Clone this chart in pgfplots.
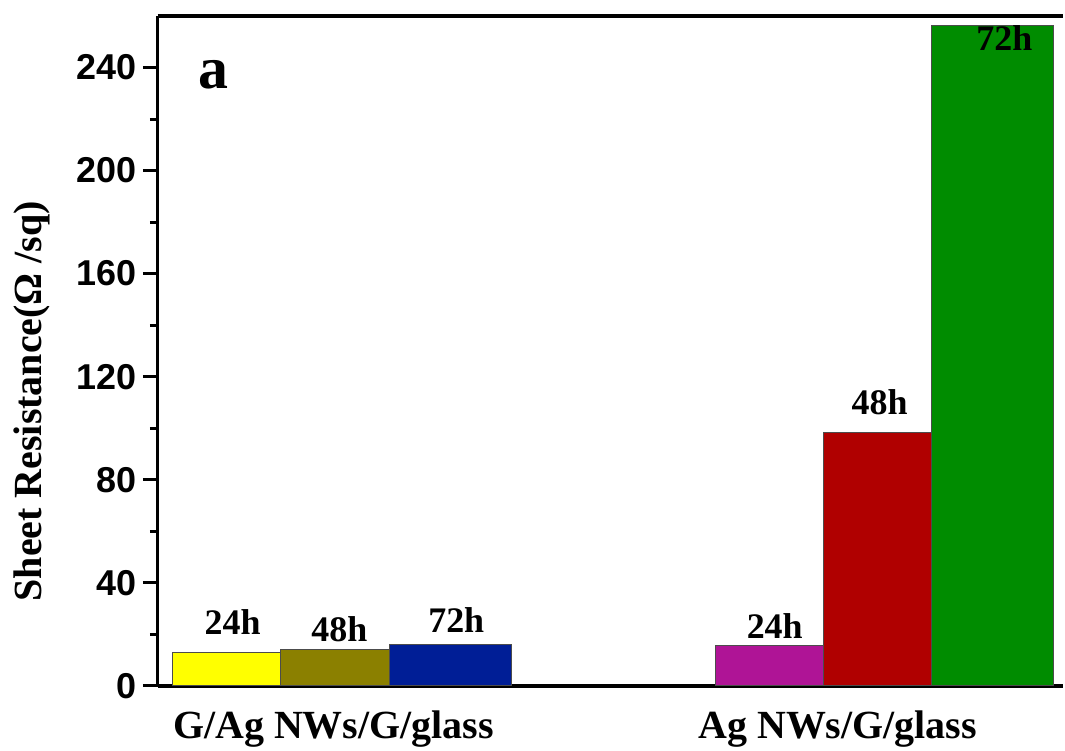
\documentclass[border=0pt]{standalone}
\usepackage{fontspec}
\setmainfont{Liberation Serif}
\setsansfont{Liberation Sans}
\usepackage{pgfplots}
\pgfplotsset{compat=1.18}
\definecolor{cYellow}{HTML}{FFFF00}
\definecolor{cOlive}{HTML}{8B8000}
\definecolor{cBlue}{HTML}{001E96}
\definecolor{cMagenta}{HTML}{AF1496}
\definecolor{cRed}{HTML}{B00000}
\definecolor{cGreen}{HTML}{008C00}
\begin{document}
\begin{tikzpicture}
\begin{axis}[
  scale only axis,
  width=907pt, height=671pt,
  xmin=158, xmax=1065,
  ymin=0, ymax=260,
  clip=false,
  axis x line*=bottom,
  axis y line*=left,
  axis line style={line width=3.5pt, black},
  tick align=outside,
  major tick length=15pt,
  minor tick length=8pt,
  ytick={0,40,80,120,160,200,240},
  minor ytick={20,60,100,140,180,220},
  every tick/.style={line width=3pt, black},
  xtick={334,839},
  xticklabels={G/Ag NWs/G/glass, Ag NWs/G/glass},
  xtick style={draw=none},
  /pgf/number format/assume math mode=true,
  yticklabel style={font=\sffamily\bfseries\fontsize{36}{36}\selectfont, xshift=-3pt},
  xticklabel style={font=\bfseries\fontsize{40}{40}\selectfont, anchor=base, yshift=-38pt},
  every axis y label/.style={at={(axis description cs:-0.128,0.425)}, rotate=90, anchor=base},
  ylabel={\bfseries\fontsize{40}{40}\selectfont Sheet Resistance(Ω /sq)},
  extra description/.code={\draw[line width=3.5pt, black] (rel axis cs:0,1) -- (rel axis cs:1,1);},
]
\addplot[ybar, bar shift=0pt, bar width=108, fill=cYellow, draw=black!70, line width=1pt] coordinates {(227,12.8)};
\addplot[ybar, bar shift=0pt, bar width=109, fill=cOlive, draw=black!70, line width=1pt] coordinates {(335.5,14.3)};
\addplot[ybar, bar shift=0pt, bar width=122, fill=cBlue, draw=black!70, line width=1pt] coordinates {(451,15.9)};
\addplot[ybar, bar shift=0pt, bar width=108, fill=cMagenta, draw=black!70, line width=1pt] coordinates {(771,15.5)};
\addplot[ybar, bar shift=0pt, bar width=108, fill=cRed, draw=black!70, line width=1pt] coordinates {(879,98.3)};
\addplot[ybar, bar shift=0pt, bar width=122, fill=cGreen, draw=black!70, line width=1pt] coordinates {(994,256.3)};
\begin{scope}[every node/.style={font=\bfseries\fontsize{36}{36}\selectfont, anchor=base, inner sep=0pt}]
\node at (axis cs:233,20.1) {24h};
\node at (axis cs:340,17.4) {48h};
\node at (axis cs:457,20.9) {72h};
\node at (axis cs:776,18.2) {24h};
\node at (axis cs:881,105.3) {48h};
\node at (axis cs:1006,246.6) {72h};
\node[font=\bfseries\fontsize{60}{60}\selectfont] at (axis cs:214,231.9) {a};
\end{scope}
\end{axis}
\path (current axis.south west) ++(-158pt,-60pt);
\path (current axis.north east) ++(0pt,16pt);
\end{tikzpicture}
\end{document}
